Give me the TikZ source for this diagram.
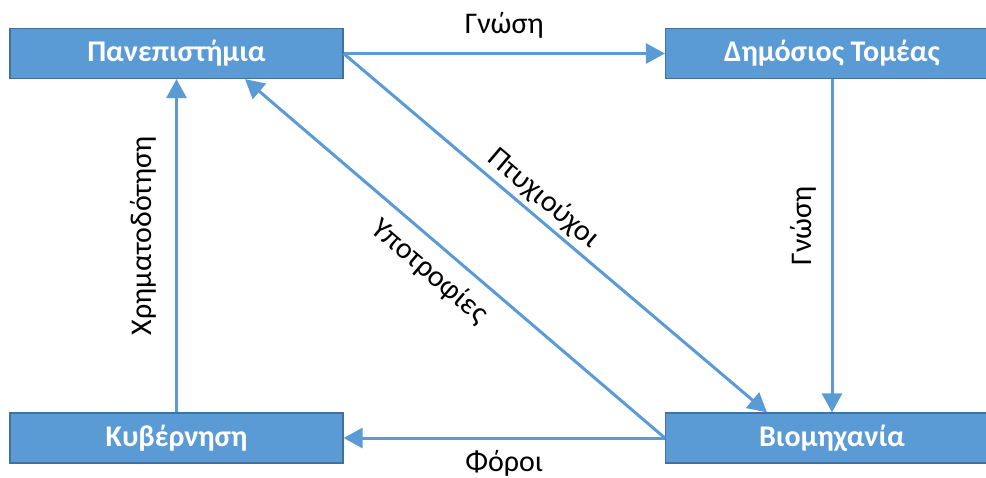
\documentclass[tikz,border=0pt]{standalone}
\usepackage{fontspec}
\setmainfont{Carlito}
\usetikzlibrary{arrows.meta,calc}
\definecolor{boxblue}{HTML}{5B9BD5}
\definecolor{boxedge}{HTML}{41719C}
\tikzset{
  >={Triangle[length=19pt,width=20pt]},
  actor/.style={draw=boxedge, line width=1.2pt, fill=boxblue, text=white,
    minimum width=333pt, minimum height=50pt, inner sep=0pt,
    font=\fontsize{30}{34}\selectfont\bfseries},
  flow/.style={draw=boxblue, line width=3pt},
  lbl/.style={font=\fontsize{30}{34}\selectfont, text=black, inner sep=0pt}
}
\begin{document}
\begin{tikzpicture}[x=1pt,y=-1pt]
  \clip (0,0) rectangle (986,477);
  % the four actors
  \node[actor] (uni) at (176.5,53.5) {Πανεπιστήμια};
  \node[actor] (pub) at (832,53.5)   {Δημόσιος Τομέας};
  \node[actor] (gov) at (176.5,438)  {Κυβέρνηση};
  \node[actor] (ind) at (832,438)    {Βιομηχανία};
  % attachment points off the box centres
  \coordinate (uniS) at ([xshift=68.5pt]uni.south);
  \coordinate (indN) at ([xshift=-65pt]ind.north);
  % flows between actors
  \draw[flow, ->] (uni.east) -- (pub.west)
    node[lbl, midway, above=14pt] {Γνώση};
  \draw[flow, <-] (ind.north) -- (pub.south)
    node[lbl, pos=0.56, sloped, above=14pt] {Γνώση};
  \draw[flow, ->] (ind.west) -- (gov.east)
    node[lbl, midway, below=11pt] {Φόροι};
  \draw[flow, ->] (gov.north) -- (uni.south)
    node[lbl, pos=0.53, sloped, above=19pt] {Χρηματοδότηση};
  \draw[flow, ->] (uni.east) -- (indN)
    node[lbl, pos=0.444, sloped, above=4pt] {Πτυχιούχοι};
  \draw[flow, <-] (uniS) -- (ind.west)
    node[lbl, pos=0.48, sloped, below=12pt] {Υποτροφίες};
\end{tikzpicture}
\end{document}
